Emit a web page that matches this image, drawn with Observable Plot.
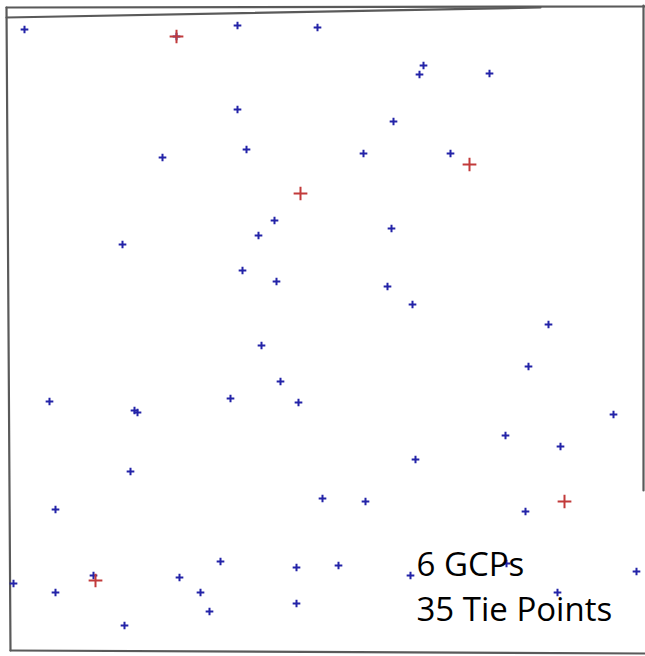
<!DOCTYPE html>
<html>
<head>
<meta charset="utf-8">
<script src="https://cdn.jsdelivr.net/npm/d3@7"></script>
<script src="https://cdn.jsdelivr.net/npm/@observablehq/plot@0.6"></script>
<style>
  html, body { margin: 0; padding: 0; background: #fff; }
  #chart svg { display: block; }
</style>
</head>
<body>
<div id="chart"></div>
<script>
// Image-space coordinates (column, row) of the points in the scene
const tieX = [24,176,237,317,423,419,489,237,393,162,246,363,450,274,258,391,122,242,276,387,412,548,261,528,280,49,134,137,230,298,613,505,560,415,130,322,365,55,525,220,296,338,93,179,410,506,636,13,55,200,557,209,296,124];
const tieY = [29,36,25,27,65,74,73,109,121,157,149,153,153,220,235,228,244,270,281,286,304,324,345,366,381,401,410,412,398,402,414,435,446,459,471,498,501,509,511,561,567,565,575,577,575,563,571,583,592,592,592,611,603,625];

const gcpX = [176,469,300,564,95];
const gcpY = [36,164,193,501,580];

// Image frame outline (slightly skewed border of the scene)
const frameId = ["top","top","inner","inner","left","left","bottom","bottom","right","right"];
const frameX  = [6,645, 6,540, 6,10, 10,645, 643,643];
const frameY  = [7,6, 17,7, 7,650, 650,653, 5,490];

const labelText = ["6 GCPs","35 Tie Points"];
const labelX = [416,416];
const labelY = [565,610];

const ties = tieX.map((x,i)=>({x, y: tieY[i]}));
const gcps = gcpX.map((x,i)=>({x, y: gcpY[i]}));
const frame = frameId.map((id,i)=>({id, x: frameX[i], y: frameY[i]}));
const labels = labelText.map((t,i)=>({t, x: labelX[i], y: labelY[i]}));

const chart = Plot.plot({
  width: 645,
  height: 656,
  margin: 0,
  style: {background: "#fff"},
  x: {domain: [0,645], range: [0,645], axis: null},
  y: {domain: [0,656], range: [0,656], axis: null},
  marks: [
    Plot.line(frame, {x: "x", y: "y", z: "id", stroke: "#5a5a5a", strokeWidth: 2.2}),
    Plot.dot(ties, {x: "x", y: "y", symbol: "plus", r: 2.6, stroke: "#2323a8", strokeWidth: 2}),
    Plot.dot(gcps, {x: "x", y: "y", symbol: "plus", r: 4.5, stroke: "#c23a3a", strokeWidth: 2}),
    Plot.text(labels, {x: "x", y: "y", text: "t", textAnchor: "start", fontSize: 33, fill: "#000",
      fontFamily: "'Open Sans', sans-serif"})
  ]
});
document.getElementById("chart").appendChild(chart);
</script>
</body>
</html>
